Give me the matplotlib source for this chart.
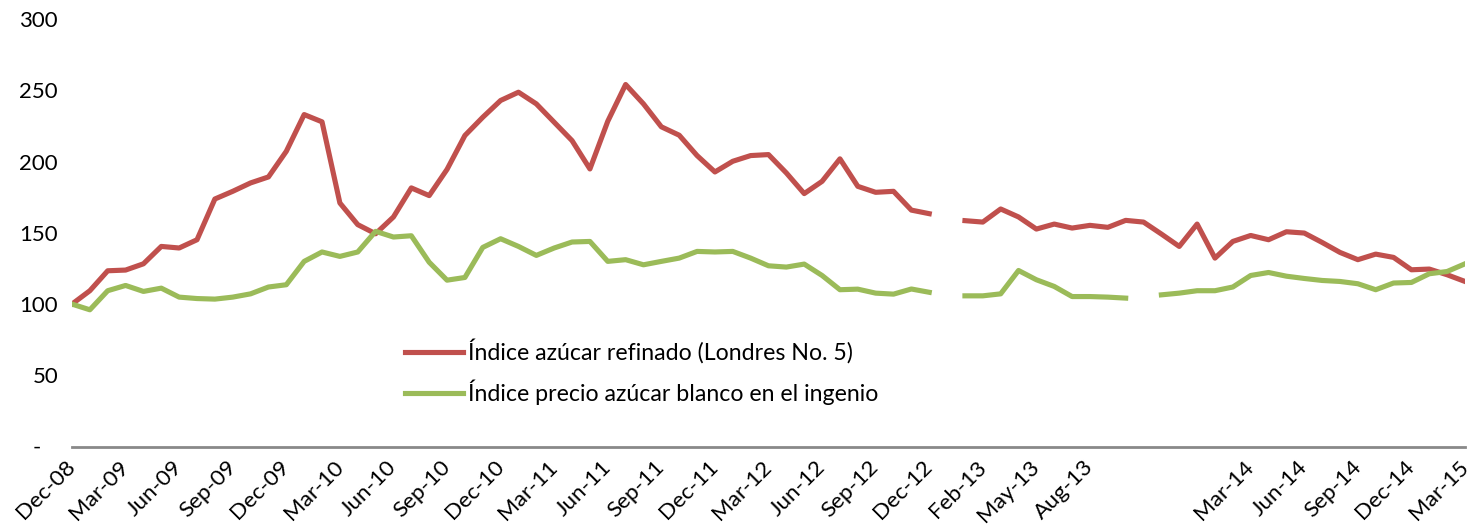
import numpy as np
import matplotlib
matplotlib.use("Agg")
import matplotlib.pyplot as plt
import matplotlib.transforms as mtransforms
from matplotlib.ticker import FixedLocator, FuncFormatter

plt.rcParams['font.family'] = ['Lato', 'DejaVu Sans']

nan = np.nan

categories = (
    ["Dec-08"] +
    [f"{m}-{y}" for y in ["09", "10", "11", "12"]
     for m in ["Jan", "Feb", "Mar", "Apr", "May", "Jun", "Jul", "Aug", "Sep", "Oct", "Nov", "Dec"]] +
    [""] +
    ["Jan-13", "Feb-13", "Mar-13", "Apr-13", "May-13", "Jun-13", "Jul-13", "Aug-13", "Sep-13", "Oct-13",
     "", "Nov-13", "Dec-13", "", "Jan-14", "Feb-14",
     "Mar-14", "Apr-14", "May-14", "Jun-14", "Jul-14", "Aug-14", "Sep-14", "Oct-14", "Nov-14", "Dec-14",
     "Jan-15", "Feb-15", "Mar-15"]
)

refinado = [
    100, 109.4, 123.4, 123.9, 128.3, 140.5, 139.4, 145.2, 173.8, 179.2,
    185.1, 189.3, 207.3, 233.1, 228, 171, 155.8, 149.4, 161.2, 181.6,
    176.2, 194.6, 218.4, 231.2, 243, 248.8, 240.6, 227.7, 214.8, 194.9,
    228.4, 254.2, 240.6, 224.5, 218.6, 204.3, 192.8, 200.3, 204.3, 205,
    192.1, 177.6, 186.2, 202, 182.7, 178.5, 179.2, 166, 163.5, nan,
    158.6, 157.6, 166.8, 161.2, 152.7, 156.2, 153.4, 155.3, 153.9, 158.8,
    157.6, 149.2, 140.5, 156.2, 132.3, 144, 148.2, 145.2, 150.8, 149.9,
    143.3, 136.3, 131.2, 135.1, 132.8, 124.1, 124.6, 120.6, 115.9,
]

ingenio = [
    100, 96, 109.4, 113.1, 108.9, 111.2, 104.9, 103.9, 103.5, 104.9,
    107.2, 112, 113.6, 130, 136.6, 133.5, 136.6, 151.1, 147.1, 148,
    129.4, 116.8, 118.7, 139.8, 145.9, 140.5, 134.2, 139.4, 143.6, 144,
    130, 131.2, 127.6, 130, 132.3, 137, 136.6, 137, 132.3, 126.9,
    126, 128.1, 120.1, 110.1, 110.5, 107.7, 107, 110.6, 108.3, nan,
    105.8, 105.8, 107.2, 123.6, 117.1, 112.4, 105.3, 105.3, 104.9, 104.2,
    nan, 106.5, 107.7, 109.4, 109.4, 112, 120.1, 122.2, 119.6, 118,
    116.6, 115.9, 114.3, 110.1, 114.8, 115.2, 121.3, 122.9, 128.3,
]

series_labels = ["Índice azúcar refinado (Londres No. 5)",
                 "Índice precio azúcar blanco en el ingenio"]
yticks = [0, 50, 100, 150, 200, 250, 300]

RED = "#C0504D"
GREEN = "#9BBB59"

fig = plt.figure(figsize=(14.72, 5.26), dpi=100)
ax = fig.add_axes([72/1472, 1 - 446.5/526, (1465-72)/1472, (446.5-19.3)/526])

x = np.arange(len(categories))
ax.plot(x, refinado, color=RED, lw=3.7, solid_joinstyle='round', label=series_labels[0])
ax.plot(x, ingenio, color=GREEN, lw=3.7, solid_joinstyle='round', label=series_labels[1])

ax.set_xlim(0, len(categories) - 1)
ax.set_ylim(0, 300)

ax.yaxis.set_major_locator(FixedLocator(yticks))
ax.yaxis.set_major_formatter(FuncFormatter(lambda v, p: "-   " if v == 0 else f"{v:.0f}"))
ax.tick_params(axis='y', length=0, pad=10, labelsize=16, labelcolor='black')

tick_pos = list(range(0, len(categories), 3))
ax.set_xticks(tick_pos)
ax.set_xticklabels([categories[i] for i in tick_pos], rotation=45, ha='right',
                   va='top', rotation_mode='anchor', fontsize=16.2)
ax.tick_params(axis='x', length=0, pad=6)
shift = mtransforms.ScaledTranslation(-7/100, -2/100, fig.dpi_scale_trans)
for lab in ax.get_xticklabels():
    lab.set_transform(lab.get_transform() + shift)

for s in ['top', 'right', 'left']:
    ax.spines[s].set_visible(False)
ax.spines['bottom'].set_color('#898989')
ax.spines['bottom'].set_linewidth(2)

leg = ax.legend(loc='center left', bbox_to_anchor=(0.239, 0.174), frameon=False,
                fontsize=16.7, handlelength=2.5, handletextpad=0.22, labelspacing=0.7,
                borderpad=0, borderaxespad=0)

fig.savefig("out.png", dpi=100)
